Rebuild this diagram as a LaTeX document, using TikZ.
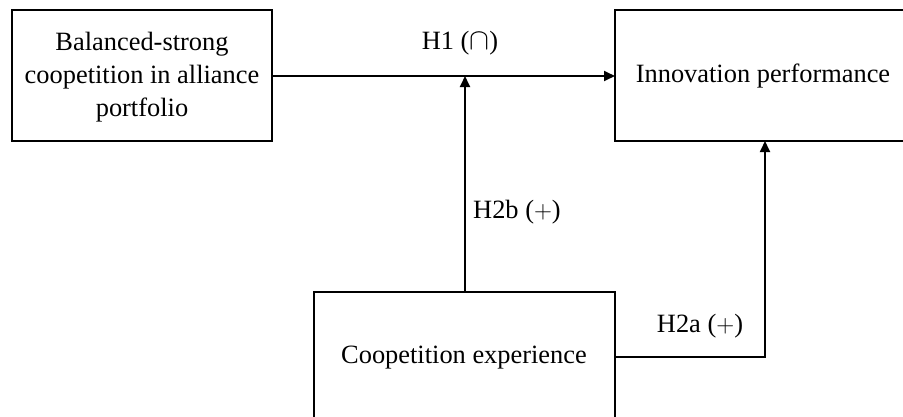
\documentclass[tikz,border=0pt]{standalone}
\usepackage{fontspec}
\setmainfont{Liberation Serif}
\usetikzlibrary{arrows.meta}
\begin{document}
\begin{tikzpicture}[x=1pt,y=-1pt,
  box/.style={draw, line width=1.8pt, inner sep=0pt},
  lbl/.style={font=\fontsize{26.4}{33}\selectfont, align=center, inner sep=0pt},
  conn/.style={line width=1.8pt, -{Triangle[length=11pt,width=10pt]}},
  edgetxt/.style={font=\fontsize{26.4}{33}\selectfont, inner sep=0pt}]
\useasboundingbox (0,0) rectangle (903,416);
\clip (0,0) rectangle (903,416);
\draw[box] (12,10) rectangle (272,141);
\node[lbl] (bal) at (142,77) {Balanced-strong\\coopetition in alliance\\portfolio};
\coordinate (balR) at (272,76);
\draw[box] (615,10) rectangle (910,141);
\node[lbl] (inn) at (763,76) {Innovation performance};
\coordinate (innL) at (615,76);
\coordinate (innB) at (765,141);
\draw[box] (314,292) rectangle (615,430);
\node[lbl] (coo) at (464,358) {Coopetition experience};
\coordinate (cooT) at (465,292);
\coordinate (cooR) at (615,357);
\coordinate (mid) at (465,76);
\coordinate (corner) at (765,357);
\draw[conn] (balR) -- (innL);
\draw[conn] (cooT) -- (mid);
\draw[conn] (cooR) -- (corner) -- (innB);
\node[edgetxt] (h1) at (460,43) {H1 (\raisebox{-0.02em}{\scalebox{1.2}{$\cap$}})};
\node[edgetxt] (h2b) at (517,212) {H2b ($+$)};
\node[edgetxt] (h2a) at (700,326) {H2a ($+$)};
\end{tikzpicture}
\end{document}
